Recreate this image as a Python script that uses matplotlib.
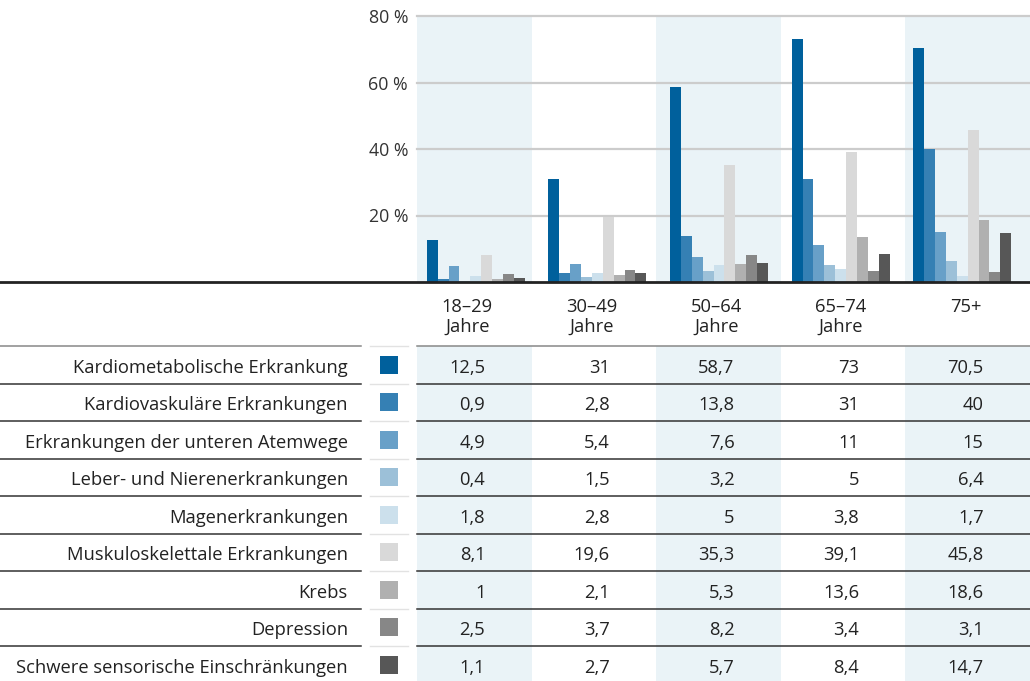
import matplotlib.pyplot as plt
from matplotlib.lines import Line2D
from matplotlib.patches import Rectangle

plt.rcParams['font.family'] = ['Open Sans', 'DejaVu Sans']

groups = ['18–29\nJahre', '30–49\nJahre', '50–64\nJahre', '65–74\nJahre', '75+']
series = ['Kardiometabolische Erkrankung',
          'Kardiovaskuläre Erkrankungen',
          'Erkrankungen der unteren Atemwege',
          'Leber- und Nierenerkrankungen',
          'Magenerkrankungen',
          'Muskuloskelettale Erkrankungen',
          'Krebs',
          'Depression',
          'Schwere sensorische Einschränkungen']
values = [[12.5, 31, 58.7, 73, 70.5],
          [0.9, 2.8, 13.8, 31, 40],
          [4.9, 5.4, 7.6, 11, 15],
          [0.4, 1.5, 3.2, 5, 6.4],
          [1.8, 2.8, 5, 3.8, 1.7],
          [8.1, 19.6, 35.3, 39.1, 45.8],
          [1, 2.1, 5.3, 13.6, 18.6],
          [2.5, 3.7, 8.2, 3.4, 3.1],
          [1.1, 2.7, 5.7, 8.4, 14.7]]
colors = ['#00609c', '#3580b4', '#68a0c8', '#9cc0d8', '#cce0ec',
          '#d9d9d9', '#b0b0b0', '#878787', '#575757']
yticks = [20, 40, 60, 80]

shade = '#eaf3f7'
txt = '#222222'
fs = 13.2
W, H = 1030, 681
x0, colw = 407, 124.6            # table columns (pixels)
plot_left, base_y, top_y = 417, 282, 16
bar_l, bar_r = 415, 1023         # bar groups span

fig = plt.figure(figsize=(W / 100, H / 100), dpi=100)

# overlay axes in pixel coordinates for the table and background bands
tab = fig.add_axes([0, 0, 1, 1], zorder=0)
tab.set_xlim(0, W)
tab.set_ylim(H, 0)
tab.axis('off')

row_top, rh = 346, 37.5
for i in range(0, len(groups), 2):
    left = max(x0 + i * colw, plot_left)
    right = x0 + (i + 1) * colw
    tab.add_patch(Rectangle((left, top_y), right - left, base_y - top_y, color=shade, lw=0, zorder=0))
    tab.add_patch(Rectangle((left, row_top), right - left, H - row_top, color=shade, lw=0, zorder=0))

# bar chart
ax = fig.add_axes([bar_l / W, (H - base_y) / H, (bar_r - bar_l) / W, (base_y - top_y) / H], zorder=1)
ax.patch.set_alpha(0)
ax.set_xlim(-0.5, len(groups) - 0.5)
ax.set_ylim(0, 80)
gx0 = (plot_left - bar_l) / (bar_r - bar_l)
gx1 = (W - bar_l) / (bar_r - bar_l)
for t in yticks:
    ax.axhline(t, xmin=gx0, xmax=gx1, color='#cccccc', lw=1.6, zorder=0.5, clip_on=False)
bw = 0.0895
for j, vals in enumerate(values):
    xs = [i + (j - 4) * bw for i in range(len(groups))]
    ax.bar(xs, vals, width=bw, color=colors[j], zorder=2, lw=0)
for s in ax.spines.values():
    s.set_visible(False)
ax.set_xticks([])
ax.set_yticks(yticks)
ax.set_yticklabels([f'{t} %' for t in yticks], fontsize=12.8, color='#333333')
ax.tick_params(axis='y', length=0, pad=5)

fig.add_artist(Line2D([0, 1], [(H - base_y) / H] * 2, transform=fig.transFigure,
                      color='#222222', lw=2, zorder=10))

# column headers
for i, g in enumerate(groups):
    cx = x0 + (i + 0.5) * colw - 2
    for n, line in enumerate(g.split('\n')):
        tab.text(cx, 312 + 20 * n, line, ha='center', va='baseline', fontsize=fs, color=txt)

# table rows
nrows = len(series)
for k in range(nrows + 1):
    y = row_top + k * rh
    c = '#888888' if k == 0 else '#333333'
    tab.plot([0, 361], [y, y], color=c, lw=1.1, zorder=3)
    tab.plot([370, 408], [y, y], color='#e2e2e2', lw=1.0, zorder=3)
    tab.plot([plot_left, W], [y, y], color=c, lw=1.1, zorder=3)

for k, name in enumerate(series):
    cy = row_top + (k + 0.5) * rh
    tab.text(348, cy + 8, name, ha='right', va='baseline', fontsize=fs, color=txt)
    tab.add_patch(Rectangle((380, cy - 9), 18, 18, color=colors[k], lw=0, zorder=2))
    for i, v in enumerate(values[k]):
        cx = x0 + (i + 0.5) * colw
        s = f'{v:g}'.replace('.', ',')
        tab.text(cx + 16, cy + 8, s, ha='right', va='baseline', fontsize=fs, color=txt)

fig.savefig('out.png', dpi=100)
